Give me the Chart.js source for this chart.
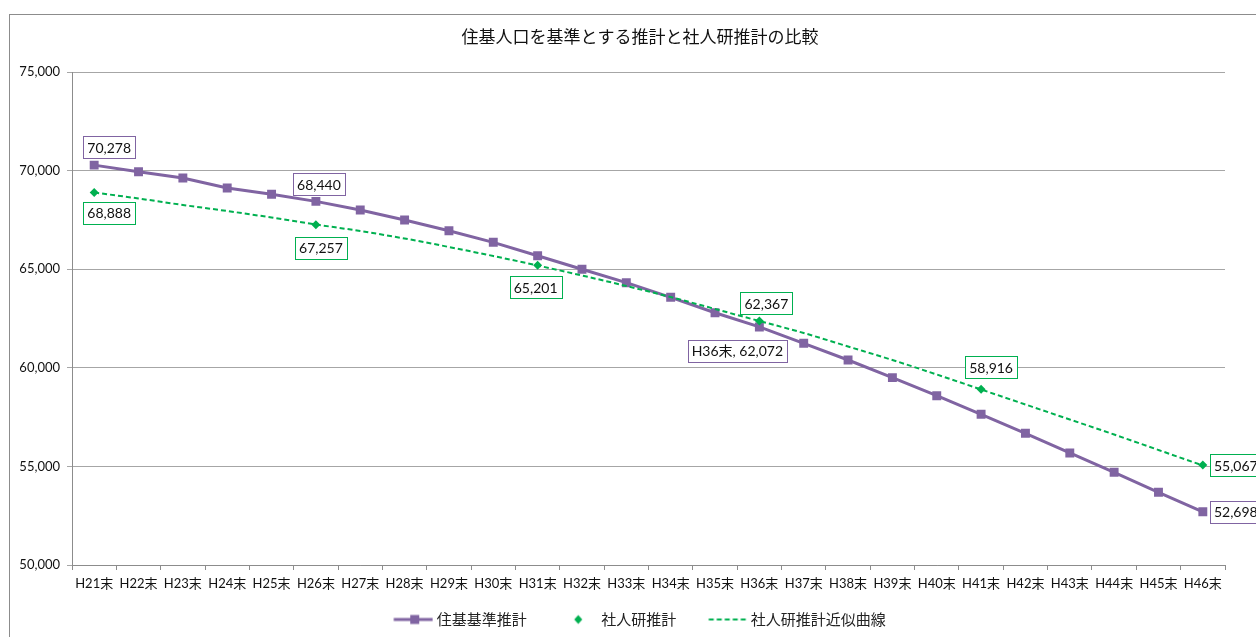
<!DOCTYPE html>
<html lang="ja">
<head>
  <meta charset="UTF-8">
  <title>住基人口を基準とする推計と社人研推計の比較</title>
  <script src="https://cdn.jsdelivr.net/npm/chart.js"></script>
  <style>
    html, body {
      margin: 0;
      padding: 0;
      background: #fff;
    }
    #wrap {
      position: relative;
      width: 1256px;
      height: 637px;
      overflow: hidden;
    }
    #frame {
      position: absolute;
      left: 9px;
      top: 14px;
      width: 1300px;
      height: 700px;
      border: 1px solid #8c8c8c;
      box-sizing: border-box;
    }
    #chart {
      position: absolute;
      left: 0;
      top: 0;
    }
  </style>
</head>
<body>
  <div id="wrap">
    <div id="frame"></div>
    <canvas id="chart" width="1256" height="637"></canvas>
  </div>

  <script>
    // 年度（末）
    const categories = [
      "H21末", "H22末", "H23末", "H24末", "H25末", "H26末", "H27末", "H28末", "H29末",
      "H30末", "H31末", "H32末", "H33末", "H34末", "H35末", "H36末", "H37末", "H38末",
      "H39末", "H40末", "H41末", "H42末", "H43末", "H44末", "H45末", "H46末"
    ];

    // 住基基準推計
    const juukiValues = [
      70278, 69944, 69625, 69118, 68798, 68440, 68002, 67495, 66952,
      66363, 65684, 64995, 64316, 63575, 62794, 62072, 61242, 60396,
      59503, 58585, 57642, 56679, 55680, 54700, 53687, 52698
    ];

    // 社人研推計（5年ごと）
    const shajinkenValues = [
      68888, null, null, null, null, 67257, null, null, null,
      null, 65201, null, null, null, null, 62367, null, null,
      null, null, 58916, null, null, null, null, 55067
    ];

    // 社人研推計近似曲線
    const trendValues = [
      68889, 68585, 68256, 67951, 67622, 67267, 66937, 66557, 66126,
      65669, 65187, 64681, 64148, 63590, 62982, 62373, 61765, 61080,
      60396, 59660, 58900, 58139, 57378, 56618, 55832, 55046
    ];

    const yTicks = [50000, 55000, 60000, 65000, 70000, 75000];

    const seriesNames = ["住基基準推計", "社人研推計", "社人研推計近似曲線"];

    const PURPLE = "#8064a2";
    const GREEN = "#00b050";
    const LATIN = "Lato, 'Noto Sans CJK JP', sans-serif";
    const CJK = "'Noto Sans CJK JP', sans-serif";

    const fmt = v => v.toLocaleString("en-US");

    // データラベルの配置（点からの中心オフセット）
    const labelPlaces = [
      { ds: 0, i: 0,  dx: 15,  dy: -18 },
      { ds: 0, i: 5,  dx: 3,   dy: -17 },
      { ds: 0, i: 15, dx: -22, dy: 24, withCat: true },
      { ds: 0, i: 25, dx: 33,  dy: 0 },
      { ds: 1, i: 0,  dx: 15,  dy: 20 },
      { ds: 1, i: 5,  dx: 5,   dy: 23 },
      { ds: 1, i: 10, dx: -2,  dy: 22 },
      { ds: 1, i: 15, dx: 7,   dy: -18 },
      { ds: 1, i: 20, dx: 10,  dy: -22 },
      { ds: 1, i: 25, dx: 33,  dy: 0 }
    ];

    const dataLabels = {
      id: "dataLabels",
      afterDatasetsDraw(chart) {
        const ctx = chart.ctx;
        ctx.save();
        ctx.font = "14px " + LATIN;
        ctx.textAlign = "center";
        ctx.textBaseline = "middle";
        labelPlaces.forEach(p => {
          const ds = chart.data.datasets[p.ds];
          const pt = chart.getDatasetMeta(p.ds).data[p.i];
          let text = fmt(ds.data[p.i]);
          if (p.withCat) text = categories[p.i] + ", " + text;
          const w = ctx.measureText(text).width + 8;
          const h = 22;
          const cx = pt.x + p.dx, cy = pt.y + p.dy;
          ctx.fillStyle = "#fff";
          ctx.fillRect(cx - w / 2, cy - h / 2, w, h);
          ctx.strokeStyle = ds.borderColor;
          ctx.lineWidth = 1;
          ctx.strokeRect(Math.round(cx - w / 2) + 0.5, Math.round(cy - h / 2) + 0.5, Math.round(w), h);
          ctx.fillStyle = "#111";
          ctx.fillText(text, cx, cy + 1);
        });
        ctx.restore();
      }
    };

    // 凡例アイコン（56px幅、箱の左端から -4px の位置に描く）
    function makeIcon(kind) {
      const c = document.createElement("canvas");
      c.width = 56;
      c.height = 12;
      const g = c.getContext("2d");
      if (kind === "line") {
        g.strokeStyle = PURPLE;
        g.lineWidth = 3;
        g.beginPath(); g.moveTo(16.5, 6); g.lineTo(55.5, 6); g.stroke();
        g.fillStyle = PURPLE;
        g.fillRect(37.5 - 4.5, 6 - 4.5, 9, 9);
      } else if (kind === "diamond") {
        g.fillStyle = GREEN;
        g.beginPath();
        g.moveTo(36.5, 1.5); g.lineTo(40.5, 6); g.lineTo(36.5, 10.5); g.lineTo(32.5, 6);
        g.closePath(); g.fill();
      } else {
        g.strokeStyle = GREEN;
        g.lineWidth = 2;
        g.setLineDash([5, 3]);
        g.beginPath(); g.moveTo(17.5, 6); g.lineTo(54.5, 6); g.stroke();
      }
      return c;
    }
    const icons = [makeIcon("line"), makeIcon("diamond"), makeIcon("dash")];

    const ctx = document.getElementById("chart").getContext("2d");
    new Chart(ctx, {
      type: "line",
      data: {
        labels: categories,
        datasets: [{
          label: seriesNames[0],
          data: juukiValues,
          borderColor: PURPLE,
          backgroundColor: PURPLE,
          borderWidth: 3,
          pointStyle: "rect",
          pointRadius: 6.3,
          pointBorderWidth: 0,
          tension: 0,
          order: 2
        }, {
          label: seriesNames[1],
          data: shajinkenValues,
          borderColor: GREEN,
          backgroundColor: GREEN,
          showLine: false,
          pointStyle: "rectRot",
          pointRadius: 4.5,
          pointBorderWidth: 0,
          order: 0
        }, {
          label: seriesNames[2],
          data: trendValues,
          borderColor: GREEN,
          backgroundColor: GREEN,
          borderWidth: 2,
          borderDash: [5, 3],
          pointRadius: 0,
          cubicInterpolationMode: "monotone",
          order: 1
        }]
      },
      options: {
        responsive: false,
        animation: false,
        layout: {
          padding: { left: 9, right: 31, top: 0, bottom: 0 }
        },
        plugins: {
          tooltip: { enabled: false },
          title: {
            display: true,
            fullSize: false,
            text: "住基人口を基準とする推計と社人研推計の比較\u3000",
            color: "#111",
            font: { size: 17, family: CJK, weight: "normal", lineHeight: 1.2 },
            padding: { top: 26, bottom: 25.6 }
          },
          legend: {
            position: "bottom",
            fullSize: false,
            labels: {
              usePointStyle: true,
              pointStyleWidth: 48,
              padding: 19,
              color: "#222",
              font: { size: 15, family: CJK },
              generateLabels: chart => seriesNames.map((name, k) => ({
                text: k === 2 ? name + "\u3000\u3000" : name,
                pointStyle: icons[k],
                fillStyle: "transparent",
                strokeStyle: "transparent",
                lineWidth: 0,
                fontColor: "#222",
                datasetIndex: k
              }))
            }
          }
        },
        scales: {
          x: {
            offset: true,
            grid: {
              drawOnChartArea: false,
              drawTicks: true,
              tickLength: 5,
              offset: true,
              color: "#8c8c8c"
            },
            border: { color: "#8c8c8c" },
            ticks: {
              autoSkip: false,
              maxRotation: 0,
              minRotation: 0,
              padding: 6,
              color: "#111",
              font: { size: 13, family: LATIN }
            },
            afterFit(scale) { scale.height = 28; }
          },
          y: {
            min: yTicks[0],
            max: yTicks[yTicks.length - 1],
            afterBuildTicks(scale) { scale.ticks = yTicks.map(v => ({ value: v })); },
            grid: {
              color: "#a6a6a6",
              tickLength: 5
            },
            border: { color: "#8c8c8c" },
            ticks: {
              padding: 7,
              color: "#111",
              font: { size: 13, family: LATIN },
              callback: v => fmt(v)
            },
            afterFit(scale) { scale.width = 63; }
          }
        }
      },
      plugins: [dataLabels]
    });
  </script>
</body>
</html>
